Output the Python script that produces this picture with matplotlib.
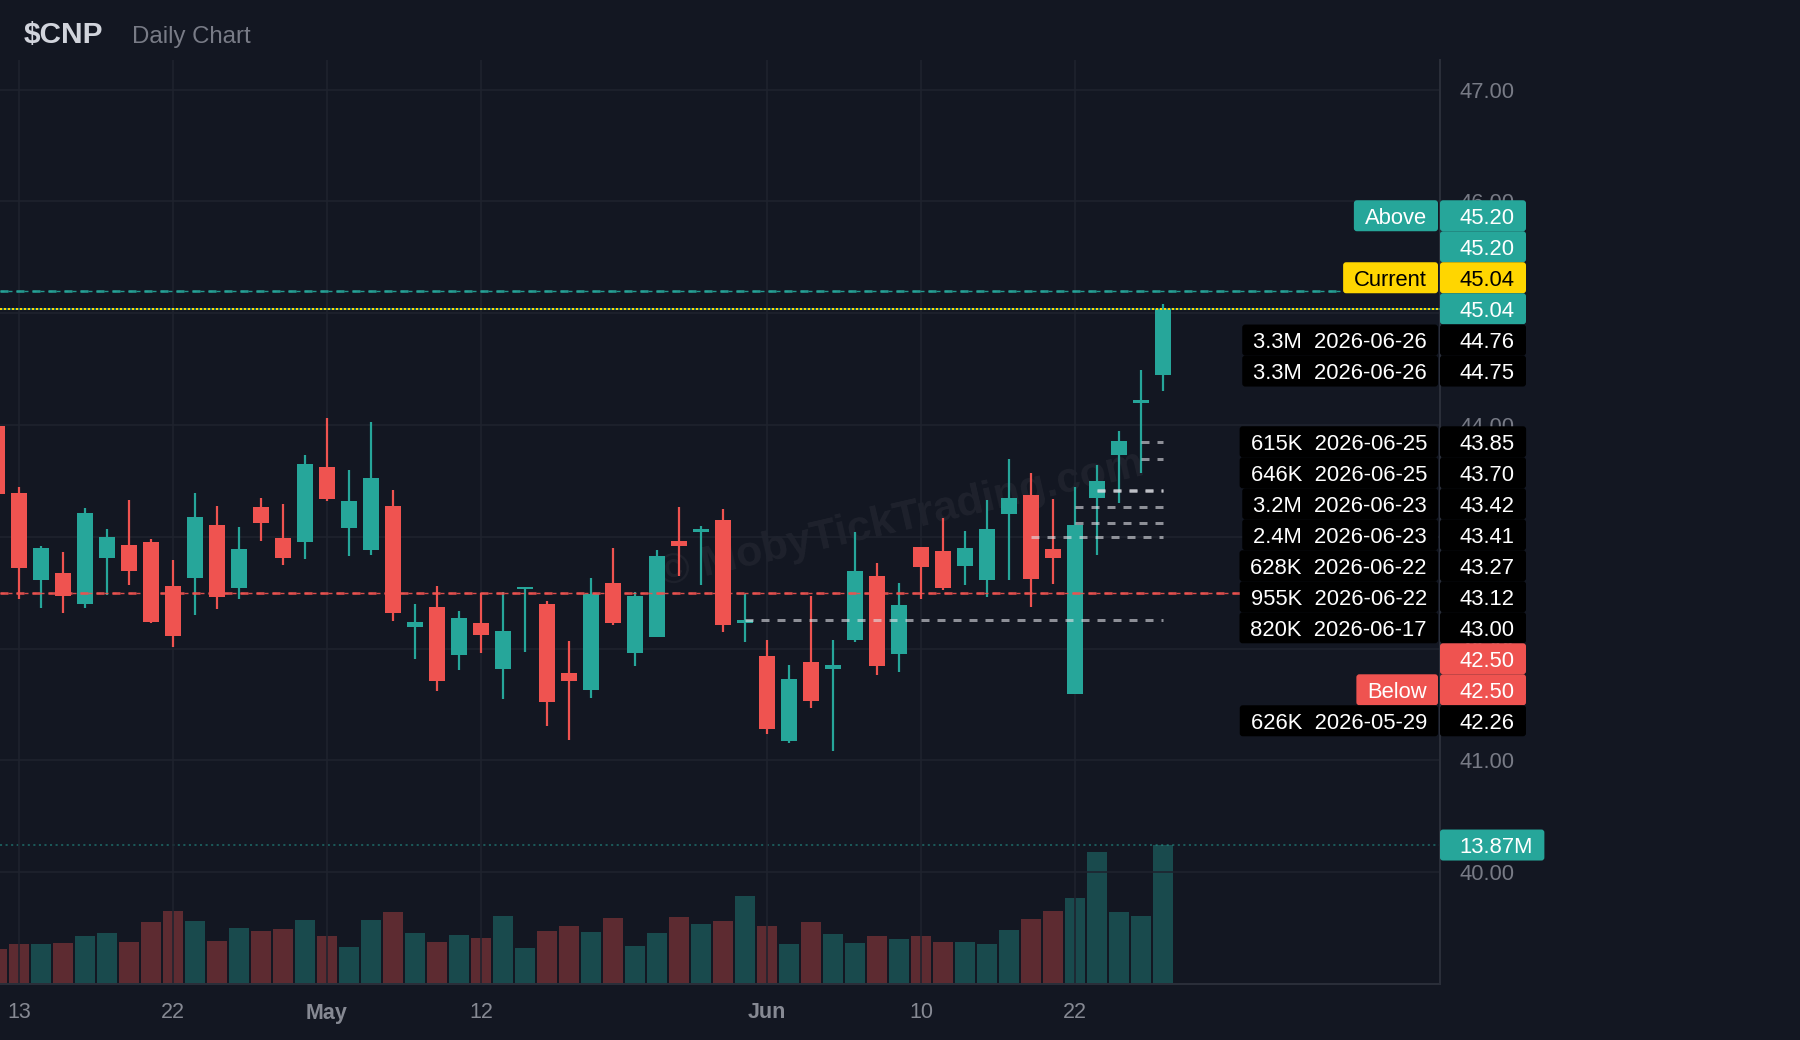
import numpy as np
import pandas as pd
import matplotlib
matplotlib.use("Agg")
import matplotlib.pyplot as plt
from matplotlib.patches import FancyBboxPatch
from matplotlib.transforms import IdentityTransform

plt.rcParams['font.family'] = ['Liberation Sans', 'DejaVu Sans']
plt.rcParams['lines.scale_dashes'] = False

# ---------------- data ----------------
dates = pd.bdate_range('2026-04-10', '2026-06-26', freq='C',
                       holidays=['2026-05-25', '2026-06-19'])

opens = [43.99, 43.39, 42.61, 42.68, 42.40, 42.81, 42.93, 42.95, 42.56, 42.63,
         43.11, 42.54, 43.27, 42.99, 42.95, 43.62, 43.08, 42.88, 43.28, 42.19,
         42.37, 41.94, 42.23, 41.82, 42.53, 42.40, 41.78, 41.63, 42.59, 41.96,
         42.10, 42.96, 43.04, 43.15, 42.23, 41.93, 41.17, 41.88, 41.82, 42.08,
         42.65, 41.95, 42.91, 42.87, 42.74, 42.61, 43.20, 43.37, 42.89, 41.59,
         43.35, 43.73, 44.20, 44.45]
highs = [44.05, 43.45, 42.92, 42.86, 43.26, 43.07, 43.33, 42.98, 42.79, 43.39,
         43.28, 43.09, 43.35, 43.29, 43.73, 44.06, 43.60, 44.03, 43.42, 42.40,
         42.56, 42.34, 42.50, 42.51, 42.55, 42.43, 42.07, 42.63, 42.90, 42.51,
         42.88, 43.27, 43.10, 43.25, 42.49, 42.08, 41.85, 42.47, 42.08, 43.04,
         42.77, 42.59, 42.91, 43.17, 43.05, 43.33, 43.70, 43.57, 43.34, 43.45,
         43.64, 43.95, 44.49, 45.08]
lows = [43.33, 42.44, 42.36, 42.32, 42.36, 42.48, 42.57, 42.23, 42.01, 42.30,
        42.35, 42.44, 42.96, 42.75, 42.80, 43.32, 42.83, 42.84, 42.25, 41.91,
        41.62, 41.81, 41.96, 41.55, 41.97, 41.31, 41.18, 41.56, 42.21, 41.84,
        42.10, 42.65, 42.57, 42.15, 42.06, 41.24, 41.16, 41.47, 41.08, 42.06,
        41.76, 41.79, 42.44, 42.52, 42.57, 42.46, 42.61, 42.37, 42.58, 41.59,
        42.84, 43.30, 43.57, 44.30]
closes = [43.38, 42.72, 42.90, 42.47, 43.21, 43.00, 42.69, 42.24, 42.11, 43.18,
          42.46, 42.89, 43.12, 42.81, 43.65, 43.34, 43.32, 43.53, 42.32, 42.24,
          41.71, 42.27, 42.12, 42.16, 42.55, 41.52, 41.71, 42.49, 42.23, 42.47,
          42.83, 42.92, 43.07, 42.21, 42.26, 41.28, 41.73, 41.53, 41.85, 42.69,
          41.84, 42.39, 42.73, 42.54, 42.90, 43.07, 43.35, 42.62, 42.81, 43.11,
          43.50, 43.86, 44.22, 45.04]
volume_m = [3.54, 4.04, 4.04, 4.14, 4.75, 5.05, 4.24, 6.15, 7.25, 6.25,
            4.34, 5.55, 5.25, 5.45, 6.35, 4.75, 3.74, 6.35, 7.15, 5.05,
            4.24, 4.85, 4.55, 6.75, 3.64, 5.25, 5.75, 5.15, 6.55, 3.84,
            5.05, 6.65, 5.95, 6.25, 8.76, 5.75, 4.04, 6.15, 4.95, 4.14,
            4.75, 4.45, 4.75, 4.24, 4.24, 4.04, 5.35, 6.45, 7.25, 8.56,
            13.17, 7.15, 6.75, 13.87]

tick_dates = ['2026-04-13', '2026-04-22', '2026-05-01', '2026-05-12',
              '2026-06-01', '2026-06-10', '2026-06-22']
tick_labels = ['13', '22', 'May', '12', 'Jun', '10', '22']

above_price = 45.20
below_price = 42.50
current_price = 45.04

lvl_price = [44.76, 44.75, 43.85, 43.70, 43.42, 43.41, 43.27, 43.12, 43.00, 42.26]
lvl_vol = ['3.3M', '3.3M', '615K', '646K', '3.2M', '2.4M', '628K', '955K', '820K', '626K']
lvl_date = ['2026-06-26', '2026-06-26', '2026-06-25', '2026-06-25', '2026-06-23',
            '2026-06-23', '2026-06-22', '2026-06-22', '2026-06-17', '2026-05-29']

# ---------------- style ----------------
BG = '#131722'
GRID = '#1f232e'
TEAL = '#26a69a'
RED = '#ef5350'
YEL = '#ffd600'
AXTXT = '#787b86'
W, H = 1800, 1040
PX = 0.72  # points per pixel at 100 dpi

o = np.array(opens); h = np.array(highs); l = np.array(lows); c = np.array(closes)
x = np.arange(len(dates))
up = c >= o
cols = np.where(up, TEAL, RED)

fig = plt.figure(figsize=(18, 10.4), dpi=100, facecolor=BG)
rect = [0, 56 / H, 1440 / W, 924 / H]
axv = fig.add_axes(rect, zorder=0)
ax = fig.add_axes(rect, zorder=1)
axv.set_facecolor(BG)
ax.set_facecolor('none')

xlim = (0.136, 65.59)

# volume
vcols = [(0.149, 0.651, 0.604, 0.36) if u else (0.937, 0.325, 0.314, 0.34) for u in up]
axv.bar(x, volume_m, width=20 / 22, color=vcols, linewidth=0)
vmax = max(volume_m)
axv.axhline(vmax, color=TEAL, alpha=0.55, lw=1.2, linestyle=(0, (1.5, 2.5)))
axv.set_xlim(*xlim)
axv.set_ylim(0, vmax / 0.1504)
axv.set_xticks([]); axv.set_yticks([])
for s in axv.spines.values():
    s.set_visible(False)

# watermark
ax.text(0.626, 0.502, '\u00a9 MobyTickTrading.com', transform=ax.transAxes,
        rotation=13, fontsize=31, fontweight='bold', color='white', alpha=0.05,
        ha='center', va='center', zorder=0.5)

# candles
ax.vlines(x, l, h, colors=cols, lw=2.2 * PX, zorder=2)
ax.bar(x, np.maximum(np.abs(c - o), 0.02), bottom=np.minimum(o, c), width=16 / 22,
       color=cols, linewidth=0, zorder=2.1)

# level lines
di = {d.strftime('%Y-%m-%d'): i for i, d in enumerate(dates)}
last = len(dates) - 1
for p, d in zip(lvl_price, lvl_date):
    ax.hlines(p, di[d], last, color='#dfe1e6', alpha=0.6, lw=3 * PX,
              linestyle=(0, (8 * PX, 8 * PX)), zorder=3)

for p, col in ((above_price, TEAL), (below_price, RED)):
    ax.axhline(p, color=col, lw=2.6 * PX, alpha=0.9, linestyle=(0, (8 * PX, 8 * PX)), zorder=3)
    ax.axhline(p, color=col, lw=1.4 * PX, alpha=0.9, linestyle=(0, (4 * PX, 4 * PX)), zorder=3)
ax.axhline(current_price, color=TEAL, lw=2 * PX, alpha=0.6, linestyle=(2 * PX, (2 * PX, 2 * PX)), zorder=3)
ax.axhline(current_price, color=YEL, lw=2 * PX, linestyle=(0, (2 * PX, 2 * PX)), zorder=3.1)

ax.set_xlim(*xlim)
ax.set_ylim(39.0, 47.265)

# grid & axes
ax.set_yticks(np.arange(40, 48, 1.0))
ax.set_yticklabels(['%.2f' % v for v in np.arange(40, 48, 1.0)])
ax.yaxis.tick_right()
ax.tick_params(axis='y', length=0, pad=20 * PX, labelsize=15.8, labelcolor=AXTXT)
ax.set_xticks([di[d] for d in tick_dates])
ax.set_xticklabels(tick_labels)
ax.tick_params(axis='x', length=0, pad=18.5 * PX, labelsize=15.5, labelcolor='#868993')
for t in ax.get_xticklabels():
    if t.get_text() in ('May', 'Jun'):
        t.set_fontweight('bold')
ax.grid(True, color=GRID, lw=1.6 * PX)
ax.set_axisbelow(True)
for k in ('top', 'left'):
    ax.spines[k].set_visible(False)
for k in ('right', 'bottom'):
    ax.spines[k].set_color('#2a2e39')
    ax.spines[k].set_linewidth(2 * PX)

# title
fig.text(24 / W, 1 - 42.7 / H, '$CNP', fontsize=21.5, fontweight='bold', color='#d1d4dc',
         va='baseline', parse_math=False)
fig.text(132 / W, 1 - 42.7 / H, 'Daily Chart', fontsize=17.3, color=AXTXT, va='baseline')

# ---------------- right-side tags ----------------
tag_prices = [above_price, above_price, current_price, current_price] + lvl_price[:2] + \
             lvl_price[2:9] + [below_price, below_price] + lvl_price[9:]
tag_left = ['Above', '', 'Current', ''] + ['%s  %s' % (v, d) for v, d in zip(lvl_vol[:2], lvl_date[:2])] + \
           ['%s  %s' % (v, d) for v, d in zip(lvl_vol[2:9], lvl_date[2:9])] + ['', 'Below'] + \
           ['%s  %s' % (lvl_vol[9], lvl_date[9])]
tag_kind = ['teal', 'teal', 'yellow', 'teal'] + ['black'] * 9 + ['red', 'red', 'black']
anchor = 3
fills = {'teal': TEAL, 'red': RED, 'yellow': YEL, 'black': '#000000'}

TAG_H = 31.0
FS = 15.8
cap = 0.716 * FS / PX
renderer = fig.canvas.get_renderer()

true_top = [H - ax.transData.transform((0, p))[1] for p in tag_prices]
pos = list(true_top)
for i in range(anchor - 1, -1, -1):
    pos[i] = min(true_top[i], pos[i + 1] - TAG_H)
for i in range(anchor + 1, len(pos)):
    pos[i] = max(true_top[i], pos[i - 1] + TAG_H)


def box(x0, x1, ymid, color):
    fig.add_artist(FancyBboxPatch((x0, H - ymid - TAG_H / 2), x1 - x0, TAG_H,
                                  boxstyle='round,pad=0,rounding_size=3', fc=color, ec='none',
                                  transform=IdentityTransform(), zorder=5))


def price_tag(ymid, s, fill, tcol):
    t = fig.text(0, 0, s, fontsize=FS, color=tcol, ha='right', va='baseline', zorder=6)
    tw = t.get_window_extent(renderer).width
    xr = 1440 + max(74, tw + 19)
    t.set_position((xr / W, (H - ymid - cap / 2) / H))
    box(1440, xr + 12, ymid, fill)


for p, lab, kind, ym in zip(tag_prices, tag_left, tag_kind, pos):
    fill = fills[kind]
    tcol = '#000000' if kind == 'yellow' else '#ffffff'
    price_tag(ym, '%.2f' % p, fill, tcol)
    if lab:
        t = fig.text(1427 / W, (H - ym - cap / 2) / H, lab, fontsize=FS, color=tcol,
                     ha='right', va='baseline', zorder=6)
        tw = t.get_window_extent(renderer).width
        box(1427 - tw - 11, 1438, ym, fill)

# volume tag
vy = H - axv.transData.transform((0, vmax))[1]
price_tag(vy, '%.2fM' % vmax, TEAL, '#ffffff')

fig.savefig('out.png', dpi=100, facecolor=BG)
